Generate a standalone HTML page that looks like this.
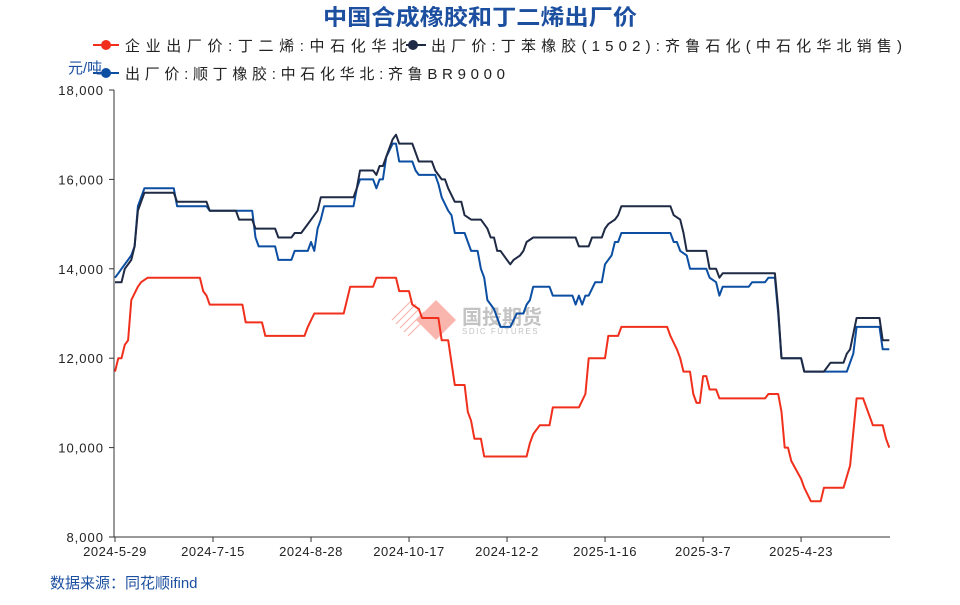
<!DOCTYPE html>
<html><head><meta charset="utf-8"><style>
body{margin:0;background:#fff;}
svg text{font-family:"Liberation Sans","Noto Sans CJK SC",sans-serif;}
</style></head><body>
<svg id="chart" width="960" height="600" viewBox="0 0 960 600" xmlns="http://www.w3.org/2000/svg">
<text x="480" y="25" text-anchor="middle" font-size="22" font-weight="bold" fill="#1c4fa0" textLength="314" lengthAdjust="spacingAndGlyphs">中国合成橡胶和丁二烯出厂价</text>
<g>
 <g>
  <line x1="93" y1="45" x2="119" y2="45" stroke="#f0301c" stroke-width="2"/><circle cx="106" cy="45" r="5" fill="#f0301c"/>
  <text x="125" y="51" font-size="15" fill="#222" textLength="282" lengthAdjust="spacing">企业出厂价:丁二烯:中石化华北</text>
 </g>
 <g>
  <line x1="406" y1="45" x2="426" y2="45" stroke="#1f2a44" stroke-width="2"/><circle cx="413" cy="45" r="5" fill="#1f2a44"/>
  <text x="431" y="51" font-size="15" fill="#222" textLength="471" lengthAdjust="spacing">出厂价:丁苯橡胶(1502):齐鲁石化(中石化华北销售)</text>
 </g>
 <g>
  <line x1="93" y1="73" x2="119" y2="73" stroke="#0b4ea2" stroke-width="2"/><circle cx="106" cy="73" r="5" fill="#0b4ea2"/>
  <text x="125" y="79" font-size="15" fill="#222" textLength="380" lengthAdjust="spacing">出厂价:顺丁橡胶:中石化华北:齐鲁BR9000</text>
 </g>
</g>
<text x="68" y="73" font-size="15" fill="#1c4fa0">元/吨</text>
<g opacity="0.35">
 <g stroke="#f0301c" stroke-width="1.2">
  <line x1="392" y1="320" x2="412" y2="300"/><line x1="396" y1="324" x2="416" y2="304"/><line x1="400" y1="328" x2="420" y2="308"/><line x1="404" y1="332" x2="424" y2="312"/><line x1="408" y1="336" x2="428" y2="316"/>
 </g>
 <polygon points="436,300 456,320 436,340 416,320" fill="#f0301c"/>
 <text x="462" y="324" font-size="20" font-weight="bold" fill="#555">国投期货</text>
 <text x="462" y="334" font-size="8" letter-spacing="1.5" fill="#555">SDIC FUTURES</text>
</g>
<g id="axes"></g>
<g id="series"></g>
<text x="50" y="588" font-size="15" fill="#1c4fa0">数据来源：同花顺ifind</text>
</svg>
<script>
const xTickLabels=["2024-5-29","2024-7-15","2024-8-28","2024-10-17","2024-12-2","2025-1-16","2025-3-7","2025-4-23"];
const xTickIdx=[0,30,60,90,120,150,180,210];
const yTicks=[8000,10000,12000,14000,16000,18000];
const butadieneIdx=[0,1,2,3,4,5,7,8,10,26,27,28,29,39,40,45,46,58,59,61,70,72,79,80,86,87,90,91,93,94,99,100,102,103,104,107,108,109,110,112,113,126,127,128,130,133,134,142,144,145,150,151,154,155,169,170,172,173,174,176,177,178,179,180,181,182,184,185,199,200,203,204,205,206,207,210,211,213,216,217,223,225,227,229,232,235,236,237];
const butadieneVal=[11700,12000,12000,12300,12400,13300,13600,13700,13800,13800,13500,13400,13200,13200,12800,12800,12500,12500,12700,13000,13000,13600,13600,13800,13800,13500,13500,13200,13100,12900,12900,12400,12400,11900,11400,11400,10800,10600,10200,10200,9800,9800,10100,10300,10500,10500,10900,10900,11200,12000,12000,12500,12500,12700,12700,12500,12200,12000,11700,11700,11200,11000,11000,11600,11600,11300,11300,11100,11100,11200,11200,10800,10000,10000,9700,9300,9100,8800,8800,9100,9100,9600,11100,11100,10500,10500,10200,10000];
const sbrIdx=[0,2,3,5,6,7,8,9,18,19,28,29,37,38,42,43,49,50,54,55,57,59,61,62,63,73,74,75,79,80,81,82,84,85,86,87,91,92,93,97,98,100,101,102,104,106,107,109,112,114,115,116,117,118,120,121,122,124,125,126,128,141,142,145,146,149,150,151,153,154,155,170,171,173,174,175,181,182,184,185,186,202,203,204,210,211,217,219,223,224,225,227,234,235,237];
const sbrVal=[13700,13700,14000,14200,14500,15300,15500,15700,15700,15500,15500,15300,15300,15100,15100,14900,14900,14700,14700,14800,14800,15000,15200,15300,15600,15600,15800,16200,16200,16100,16300,16300,16700,16900,17000,16800,16800,16600,16400,16400,16200,16000,16000,15800,15500,15500,15200,15100,15100,14900,14700,14700,14400,14400,14200,14100,14200,14300,14400,14600,14700,14700,14500,14500,14700,14700,14900,15000,15100,15200,15400,15400,15200,15100,14800,14400,14400,14000,14000,13800,13900,13900,13100,12000,12000,11700,11700,11900,11900,12100,12200,12900,12900,12400,12400];
const brIdx=[0,1,2,3,5,6,7,9,18,19,28,29,42,43,44,49,50,54,55,59,60,61,62,63,64,73,74,75,79,80,81,82,83,85,86,87,91,92,93,98,99,100,102,103,104,107,109,111,112,113,114,116,118,121,123,125,126,127,128,133,134,140,141,142,143,144,145,147,149,150,152,153,154,155,170,171,172,173,175,176,181,182,184,185,186,194,195,199,200,202,203,204,210,211,224,226,227,234,235,237];
const brVal=[13800,13900,14000,14100,14300,14500,15400,15800,15800,15400,15400,15300,15300,14700,14500,14500,14200,14200,14400,14400,14600,14400,14900,15100,15400,15400,15800,16000,16000,15800,16000,16000,16500,16800,16800,16400,16400,16200,16100,16100,15900,15600,15300,15200,14800,14800,14400,14400,14000,13800,13300,13100,12700,12700,13000,13000,13200,13300,13600,13600,13400,13400,13200,13400,13200,13400,13400,13700,13700,14100,14300,14600,14600,14800,14800,14600,14600,14400,14300,14000,14000,13800,13700,13400,13600,13600,13700,13700,13800,13800,13000,12000,12000,11700,11700,12100,12700,12700,12200,12200];

const NS="http://www.w3.org/2000/svg";
const X0=115,PX=3.267,YTOP=90,YBOT=537,VMIN=8000,VMAX=18000;
function xs(i){return X0+i*PX;}
function ys(v){return YBOT-(v-VMIN)/(VMAX-VMIN)*(YBOT-YTOP);}
const axes=document.getElementById('axes');
function mk(tag,attrs,parent){const e=document.createElementNS(NS,tag);for(const k in attrs)e.setAttribute(k,attrs[k]);parent.appendChild(e);return e;}
const yAxis=mk('line',{x1:114,y1:YTOP,x2:114,y2:YBOT,stroke:'#333','stroke-width':1},axes);


const xAxis=mk('line',{x1:114,y1:YBOT,x2:890,y2:YBOT,stroke:'#333','stroke-width':1},axes);


yTicks.forEach(v=>{
 const y=ys(v);
 mk('line',{x1:109,y1:y,x2:114,y2:y,stroke:'#333'},axes);
 const t=mk('text',{x:104,y:y+5,'text-anchor':'end','font-size':13,'letter-spacing':'1',fill:'#222'},axes);
 t.textContent=v.toLocaleString('en-US');
 
 
});
xTickIdx.forEach((i,k)=>{
 const x=xs(i);
 mk('line',{x1:x,y1:YBOT,x2:x,y2:YBOT+5,stroke:'#333'},axes);
 const t=mk('text',{x:x,y:556,'text-anchor':'middle','font-size':13,'letter-spacing':'0.5',fill:'#222'},axes);
 t.textContent=xTickLabels[k];
 
 
});
const series=document.getElementById('series');
function drawLine(idx,val,color,name){
 const d=idx.map((i,k)=>(k?'L':'M')+xs(i).toFixed(1)+','+ys(val[k]).toFixed(1)).join(' ');
 const p=mk('path',{d:d,fill:'none',stroke:color,'stroke-width':2,'stroke-linejoin':'round'},series);
 
 
}
drawLine(brIdx,brVal,'#0b4ea2','series-br9000');
drawLine(sbrIdx,sbrVal,'#1f2a44','series-sbr1502');
drawLine(butadieneIdx,butadieneVal,'#f0301c','series-butadiene');
</script>
</body></html>
